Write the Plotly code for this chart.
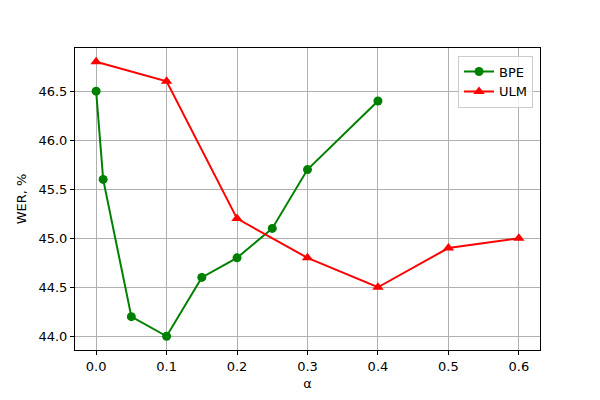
import plotly.graph_objects as go

bpe_alpha = [0.0, 0.01, 0.05, 0.1, 0.15, 0.2, 0.25, 0.3, 0.4]
bpe_wer = [46.5, 45.6, 44.2, 44.0, 44.6, 44.8, 45.1, 45.7, 46.4]
ulm_alpha = [0.0, 0.1, 0.2, 0.3, 0.4, 0.5, 0.6]
ulm_wer = [46.8, 46.6, 45.2, 44.8, 44.5, 44.9, 45.0]

font = dict(family="DejaVu Sans", size=13, color="black")

fig = go.Figure()
fig.add_trace(
    go.Scatter(
        x=bpe_alpha,
        y=bpe_wer,
        mode="lines+markers",
        name="BPE",
        line=dict(color="green", width=2),
        marker=dict(symbol="circle", size=9, color="green"),
    )
)
fig.add_trace(
    go.Scatter(
        x=ulm_alpha,
        y=ulm_wer,
        mode="lines+markers",
        name="ULM",
        line=dict(color="red", width=2),
        marker=dict(symbol="triangle-up", size=10, color="red"),
    )
)

axis_style = dict(
    showline=True,
    linecolor="black",
    linewidth=1,
    mirror=True,
    showgrid=True,
    gridcolor="#b0b0b0",
    gridwidth=1,
    ticks="outside",
    ticklen=4,
    tickcolor="black",
    zeroline=False,
    tickfont=font,
)

fig.update_layout(
    width=600,
    height=400,
    margin=dict(l=67, r=68, t=40, b=58),
    paper_bgcolor="white",
    plot_bgcolor="white",
    font=font,
    xaxis=dict(
        range=[-0.03, 0.63],
        tickvals=[0.0, 0.1, 0.2, 0.3, 0.4, 0.5, 0.6],
        ticktext=["0.0", "0.1", "0.2", "0.3", "0.4", "0.5", "0.6"],
        title=dict(text="α", font=font, standoff=6),
        **axis_style,
    ),
    yaxis=dict(
        range=[43.86, 46.94],
        tickvals=[44.0, 44.5, 45.0, 45.5, 46.0, 46.5],
        ticktext=["44.0", "44.5", "45.0", "45.5", "46.0", "46.5"],
        title=dict(text="WER, %", font=font, standoff=8),
        **axis_style,
    ),
    legend=dict(
        x=0.985,
        y=0.975,
        xanchor="right",
        yanchor="top",
        bgcolor="rgba(255,255,255,0.8)",
        bordercolor="#cccccc",
        borderwidth=1,
        font=font,
        tracegroupgap=0,
        itemwidth=30,
    ),
    showlegend=True,
)

fig.write_html("out.html")
